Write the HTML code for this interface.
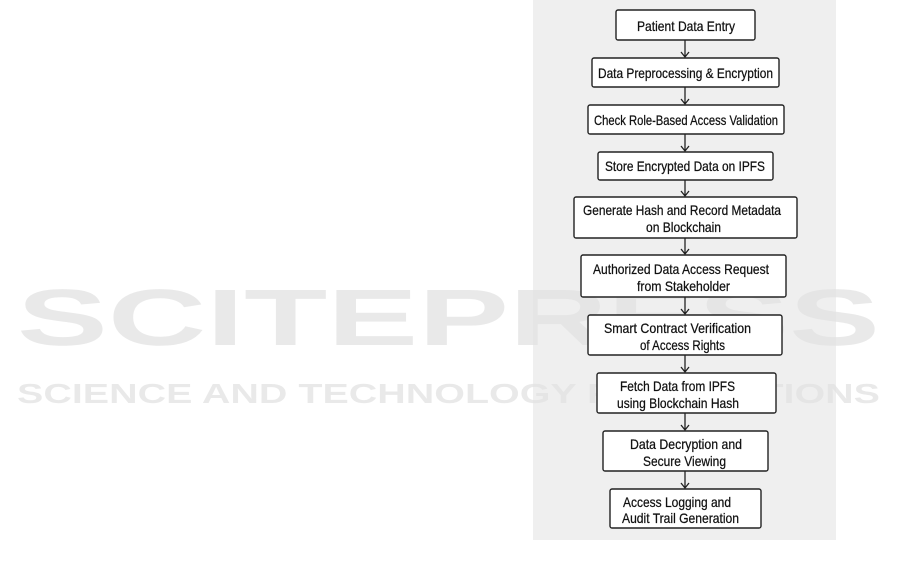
<!DOCTYPE html>
<html><head><meta charset="utf-8"><style>
html,body{margin:0;padding:0;background:#fff;}
svg{display:block;}
text{font-family:"Liberation Sans",sans-serif;}
</style></head><body>
<svg width="901" height="576" viewBox="0 0 901 576" xmlns="http://www.w3.org/2000/svg">
<g fill="#000" opacity="0.045" font-weight="bold">
<text x="17" y="345" font-size="80" textLength="863" lengthAdjust="spacingAndGlyphs">SCITEPRESS</text>
<text x="17" y="403" font-size="28" textLength="863" lengthAdjust="spacingAndGlyphs">SCIENCE AND TECHNOLOGY PUBLICATIONS</text>
</g>
<rect x="533" y="0" width="303" height="540" fill="#efefef"/>
<g fill="#000" opacity="0.035" font-weight="bold">
<text x="17" y="345" font-size="80" textLength="863" lengthAdjust="spacingAndGlyphs">SCITEPRESS</text>
<text x="17" y="403" font-size="28" textLength="863" lengthAdjust="spacingAndGlyphs">SCIENCE AND TECHNOLOGY PUBLICATIONS</text>
</g>
<g stroke="#222" stroke-width="1.3" fill="none">
<path d="M685,40V57M681,52L685,57L689,52"/>
<path d="M685,87V104M681,99L685,104L689,99"/>
<path d="M685,134V151M681,146L685,151L689,146"/>
<path d="M685,180V196M681,191L685,196L689,191"/>
<path d="M685,238V254M681,249L685,254L689,249"/>
<path d="M685,297V314M681,309L685,314L689,309"/>
<path d="M685,355V372M681,367L685,372L689,367"/>
<path d="M685,413V430M681,425L685,430L689,425"/>
<path d="M685,471V488M681,483L685,488L689,483"/>
</g>
<g fill="#fff" stroke="#222" stroke-width="1.4">
<rect x="616" y="10" width="139" height="30" rx="2"/>
<rect x="592" y="58" width="187" height="29" rx="2"/>
<rect x="588" y="105" width="196" height="29" rx="2"/>
<rect x="598" y="152" width="175" height="28" rx="2"/>
<rect x="574" y="197" width="223" height="41" rx="2"/>
<rect x="581" y="255" width="205" height="42" rx="2"/>
<rect x="588" y="315" width="194" height="40" rx="2"/>
<rect x="597" y="373" width="179" height="40" rx="2"/>
<rect x="603" y="431" width="165" height="40" rx="2"/>
<rect x="610" y="489" width="151" height="39" rx="2"/>
</g>
<g font-size="14" fill="#111" stroke="#111" stroke-width="0.25" lengthAdjust="spacingAndGlyphs">
<text x="637" y="31" textLength="98" lengthAdjust="spacingAndGlyphs">Patient Data Entry</text>
<text x="598" y="78" textLength="175" lengthAdjust="spacingAndGlyphs">Data Preprocessing &amp; Encryption</text>
<text x="594" y="125" textLength="184" lengthAdjust="spacingAndGlyphs">Check Role-Based Access Validation</text>
<text x="605" y="171" textLength="160" lengthAdjust="spacingAndGlyphs">Store Encrypted Data on IPFS</text>
<text x="583" y="215" textLength="198" lengthAdjust="spacingAndGlyphs">Generate Hash and Record Metadata</text>
<text x="646" y="232" textLength="75" lengthAdjust="spacingAndGlyphs">on Blockchain</text>
<text x="593" y="274" textLength="176" lengthAdjust="spacingAndGlyphs">Authorized Data Access Request</text>
<text x="637" y="291" textLength="93" lengthAdjust="spacingAndGlyphs">from Stakeholder</text>
<text x="604" y="333" textLength="147" lengthAdjust="spacingAndGlyphs">Smart Contract Verification</text>
<text x="640" y="350" textLength="85" lengthAdjust="spacingAndGlyphs">of Access Rights</text>
<text x="620" y="391" textLength="115" lengthAdjust="spacingAndGlyphs">Fetch Data from IPFS</text>
<text x="617" y="408" textLength="122" lengthAdjust="spacingAndGlyphs">using Blockchain Hash</text>
<text x="630" y="449" textLength="112" lengthAdjust="spacingAndGlyphs">Data Decryption and</text>
<text x="643" y="466" textLength="83" lengthAdjust="spacingAndGlyphs">Secure Viewing</text>
<text x="623" y="507" textLength="108" lengthAdjust="spacingAndGlyphs">Access Logging and</text>
<text x="622" y="523" textLength="117" lengthAdjust="spacingAndGlyphs">Audit Trail Generation</text>
</g>
</svg>
</body></html>
